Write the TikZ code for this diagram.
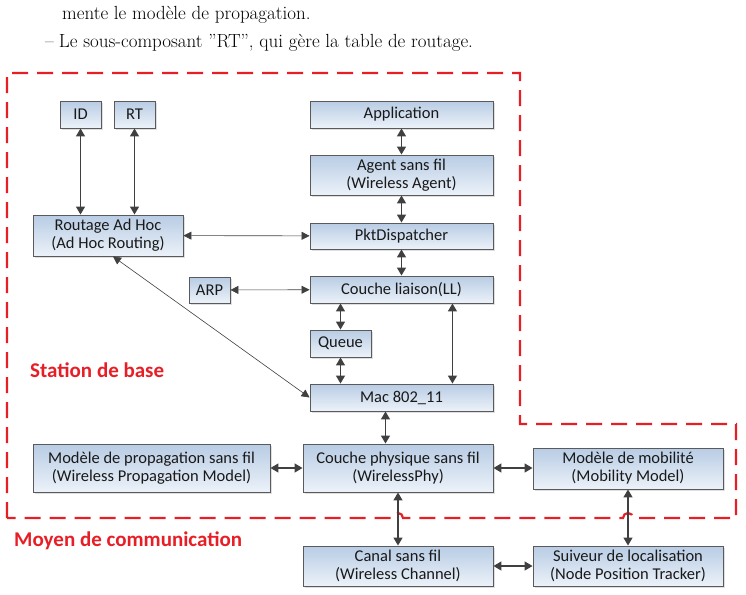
\documentclass[tikz,border=0pt]{standalone}
\usepackage{fontspec}
\newfontfamily\boxfont{Carlito}
\usetikzlibrary{shadows,arrows.meta}

\definecolor{boxtop}{RGB}{184,204,228}
\definecolor{boxbot}{RGB}{236,242,249}
\definecolor{boxline}{RGB}{90,90,90}
\definecolor{arrowgray}{RGB}{64,64,64}
\definecolor{zonered}{RGB}{232,30,38}

\begin{document}
\begin{tikzpicture}[x=1pt, y=-1pt,
  box/.style={draw=boxline, line width=0.9pt, top color=boxtop, bottom color=boxbot,
    inner sep=0pt, align=center, font=\boxfont\fontsize{16.5}{18}\selectfont, text=black!90,
    drop shadow={shadow xshift=1.5pt, shadow yshift=-1.5pt, opacity=0.25}},
  link/.style={arrowgray, line width=1.4pt, {Triangle[length=8pt,width=9pt]}-{Triangle[length=8pt,width=9pt]}},
  thinlink/.style={arrowgray, line width=0.6pt, {Triangle[length=8pt,width=8pt]}-{Triangle[length=8pt,width=8pt]}},
  zone/.style={draw=zonered, line width=2.2pt, dash pattern=on 16pt off 9pt},
  zonelabel/.style={text=zonered, font=\boxfont\bfseries\fontsize{21}{23}\selectfont}]
  \useasboundingbox (0,0) rectangle (746,594);

  % texte du document
  \node[anchor=base west, inner sep=0pt, font=\fontsize{19}{21}\selectfont] (l1) at (62,20) {mente le modèle de propagation.};
  \node[anchor=base west, inner sep=0pt, font=\fontsize{19}{21}\selectfont] (l2) at (45,48) {--\hspace{5pt}Le sous-composant "RT", qui gère la table de routage.};

  % zone station de base
  \draw[zone] (7,518) -- (7,73) -- (520,73) -- (520,424) -- (736,424) -- (736,518)
    -- (633,518) arc[start angle=0, end angle=-180, radius=5] -- (403,518)
    arc[start angle=0, end angle=-180, radius=5] -- cycle;
  \node[zonelabel, anchor=west, inner sep=0pt] (sta) at (30,370) {Station de base};
  \node[zonelabel, anchor=west, inner sep=0pt] (moy) at (14,541) {Moyen de communication};

  % composants
  \node[box, minimum width=41pt, minimum height=27pt] (id) at (80.5,114.5) {ID};
  \node[box, minimum width=41pt, minimum height=27pt] (rt) at (134.5,114.5) {RT};
  \node[box, minimum width=150pt, minimum height=41pt] (rout) at (108,235.5) {Routage Ad Hoc\\(Ad Hoc Routing)};
  \node[box, minimum width=183pt, minimum height=27pt] (app) at (401.5,114.5) {Application};
  \node[box, minimum width=183pt, minimum height=40pt] (agent) at (401.5,175) {Agent sans fil\\(Wireless Agent)};
  \node[box, minimum width=183pt, minimum height=26pt] (pkt) at (401.5,236) {PktDispatcher};
  \node[box, minimum width=41pt, minimum height=26pt] (arp) at (209.5,290) {ARP};
  \node[box, minimum width=183pt, minimum height=27pt] (ll) at (401.5,289.5) {Couche liaison(LL)};
  \node[box, minimum width=61pt, minimum height=27pt] (queue) at (340.5,343.5) {Queue};
  \node[box, minimum width=183pt, minimum height=27pt] (mac) at (401.5,397.5) {Mac 802\_11};
  \node[box, minimum width=237pt, minimum height=48pt] (prop) at (151.5,468) {Modèle de propagation sans fil\\(Wireless Propagation Model)};
  \node[box, minimum width=190pt, minimum height=48pt] (phy) at (398,468) {Couche physique sans fil\\(WirelessPhy)};
  \node[box, minimum width=190pt, minimum height=41pt] (mob) at (628,468.5) {Modèle de mobilité\\(Mobility Model)};
  \node[box, minimum width=190pt, minimum height=40pt] (canal) at (398,566) {Canal sans fil\\(Wireless Channel)};
  \node[box, minimum width=190pt, minimum height=40pt] (track) at (628,566) {Suiveur de localisation\\(Node Position Tracker)};

  % liaisons
  \draw[link] (id) -- (id |- rout.north);
  \draw[link] (rt) -- (rt |- rout.north);
  \draw[link] (app) -- (agent);
  \draw[link] (agent) -- (pkt);
  \draw[link] (pkt) -- (ll);
  \draw[thinlink] (rout) -- (pkt);
  \draw[thinlink] (arp) -- (ll);
  \draw[link] (queue.north) -- (queue |- ll.south);
  \draw[link] (queue) -- (queue |- mac.north);
  \draw[link] ([xshift=-41pt]ll.south east) -- ([xshift=-41pt]mac.north east);
  \draw[thinlink] ([xshift=5pt]rout.south) -- (mac.west);
  \draw[link] ([xshift=-16pt]mac.south) -- ([xshift=-16pt]mac.south |- phy.north);
  \draw[link] (prop) -- (phy);
  \draw[link] (phy) -- (phy -| mob.west);
  \draw[link] (phy) -- (canal);
  \draw[link] (mob) -- (track);
  \draw[link] (canal) -- (track);
\end{tikzpicture}
\end{document}
